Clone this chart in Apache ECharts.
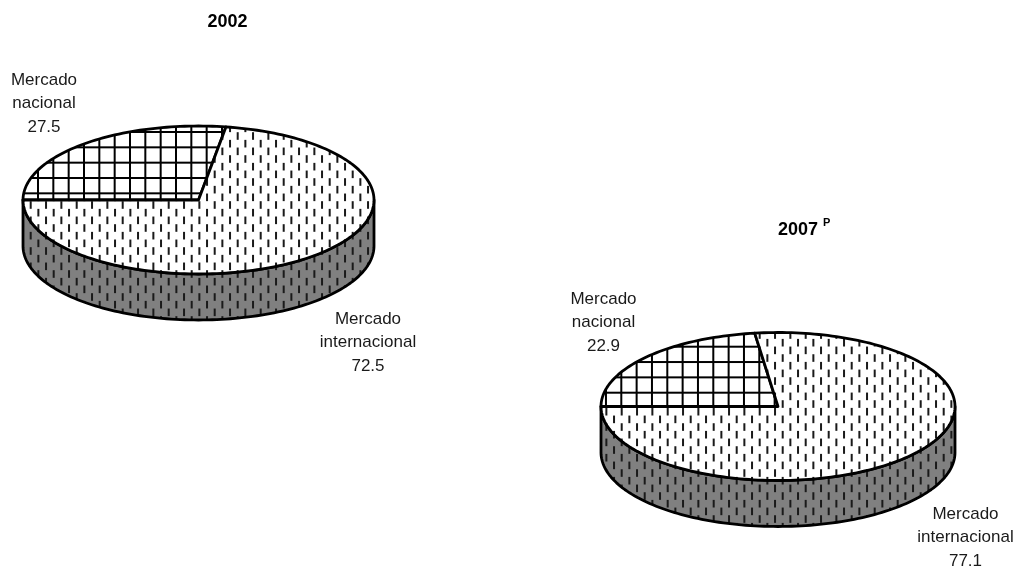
<!DOCTYPE html>
<html>
<head>
<meta charset="utf-8">
<style>html,body{margin:0;padding:0;background:#fff}#c{width:1018px;height:572px}</style>
<script src="https://cdn.jsdelivr.net/npm/echarts@6/dist/echarts.min.js"></script>
</head>
<body>
<div id="c"></div>
<script>
var categories = ['Mercado nacional', 'Mercado internacional'];
var values2002 = [27.5, 72.5];
var values2007 = [22.9, 77.1];

var FONT = '"Liberation Sans", Arial, sans-serif';
var PERIOD = 46 / 3;
var SCALE_100 = 360 / 100;

function tile(bg, draw) {
  var c = document.createElement('canvas');
  c.width = 46; c.height = 46;
  var g = c.getContext('2d');
  if (bg) { g.fillStyle = bg; g.fillRect(0, 0, 46, 46); }
  draw(g);
  return { image: c, repeat: 'repeat' };
}
function mod(a, b) { return ((a % b) + b) % b; }
function gridTile(px, py) {
  return tile('#ffffff', function (g) {
    g.fillStyle = '#000';
    for (var i = -1; i < 5; i++) {
      g.fillRect(mod(px, PERIOD) + i * PERIOD - 1, 0, 2, 46);
      g.fillRect(0, mod(py, PERIOD) + i * PERIOD - 1, 46, 2);
    }
  });
}
function dashTile(bg, px, py) {
  return tile(bg, function (g) {
    g.fillStyle = '#1a1a1a';
    var half = PERIOD / 2;
    for (var r = -2; r < 9; r++) {
      for (var k = -2; k < 6; k++) {
        var x = mod(px, PERIOD) + k * PERIOD + (r % 2 ? half : 0);
        var y = mod(py, PERIOD) + r * half;
        g.fillRect(x - 1, y - 3.8, 2, 7.6);
      }
    }
  });
}

var pieLayouts = [
  { cx: 198.5, cy: 200, rx: 175.5, ry: 74, depth: 46, grid: [38, 132], dash: [30.7, 205],
    labels: [[44, 80], [368, 319]] },
  { cx: 778, cy: 406.5, rx: 177, ry: 74, depth: 46, grid: [621.3, 392.7], dash: [621.7, 411.7],
    labels: [[603.5, 299], [965.5, 514]] }
];
pieLayouts.forEach(function (l) {
  l.gridFill = gridTile(l.grid[0], l.grid[1]);
  l.dashFill = dashTile('#ffffff', l.dash[0], l.dash[1]);
  l.sideFill = dashTile('#808080', l.dash[0], l.dash[1]);
});

function pt(l, deg, dy) {
  var r = deg * Math.PI / 180;
  return [l.cx + l.rx * Math.sin(r), l.cy - l.ry * Math.cos(r) + (dy || 0)];
}
function arcPts(l, a0, a1, dy) {
  var n = Math.max(2, Math.ceil(Math.abs(a1 - a0) / 1.5)), out = [];
  for (var i = 0; i <= n; i++) out.push(pt(l, a0 + (a1 - a0) * i / n, dy));
  return out;
}
var lineStyle = { stroke: '#000', lineWidth: 2.8, lineJoin: 'round' };

function renderSlice(values, l) {
  return function (params, api) {
    var idx = params.dataIndex;
    var before = 0;
    for (var i = 0; i < idx; i++) before += values[i];
    var a0 = 270 + before * SCALE_100;
    var a1 = a0 + api.value(0) * SCALE_100;
    var children = [];

    for (var s = 0; s <= 1; s++) {
      var from = Math.max(a0, 90 + 360 * s), to = Math.min(a1, 270 + 360 * s);
      if (to > from) {
        var top = arcPts(l, from, to, 0), bot = arcPts(l, from, to, l.depth).reverse();
        children.push({
          type: 'polygon', shape: { points: top.concat(bot) },
          style: Object.assign({ fill: l.sideFill }, lineStyle)
        });
      }
    }
    var face = [[l.cx, l.cy]].concat(arcPts(l, a0, a1, 0));
    children.push({
      type: 'polygon', shape: { points: face },
      style: Object.assign({ fill: idx === 0 ? l.gridFill : l.dashFill }, lineStyle)
    });
    var lab = l.labels[idx];
    children.push({
      type: 'text', x: lab[0], y: lab[1] - 11.85, silent: true,
      style: {
        text: categories[idx].replace(' ', '\n') + '\n' + api.value(0).toFixed(1),
        fill: '#1a1a1a', font: '17px ' + FONT, align: 'center', verticalAlign: 'top',
        lineHeight: 23.7
      }
    });
    return { type: 'group', children: children };
  };
}

var chart = echarts.init(document.getElementById('c'), null, { renderer: 'canvas' });
chart.setOption({
  backgroundColor: '#ffffff',
  animation: false,
  title: [
    { text: '2002', left: 207.5, top: 13, padding: 0,
      textStyle: { fontFamily: FONT, fontSize: 18, fontWeight: 'bold', color: '#000' } },
    { text: '2007 {p|P}', left: 778, top: 217.5, padding: 0,
      textStyle: { fontFamily: FONT, fontSize: 18, fontWeight: 'bold', color: '#000',
        rich: { p: { fontFamily: FONT, fontSize: 11, fontWeight: 'bold', color: '#000', verticalAlign: 'top', padding: [0, 0, 14, 0] } } } }
  ],
  series: [
    { type: 'custom', coordinateSystem: 'none', silent: true,
      renderItem: renderSlice(values2002, pieLayouts[0]),
      data: values2002.map(function (v, i) { return { name: categories[i], value: [v] }; }) },
    { type: 'custom', coordinateSystem: 'none', silent: true,
      renderItem: renderSlice(values2007, pieLayouts[1]),
      data: values2007.map(function (v, i) { return { name: categories[i], value: [v] }; }) }
  ]
});
</script>
</body>
</html>
